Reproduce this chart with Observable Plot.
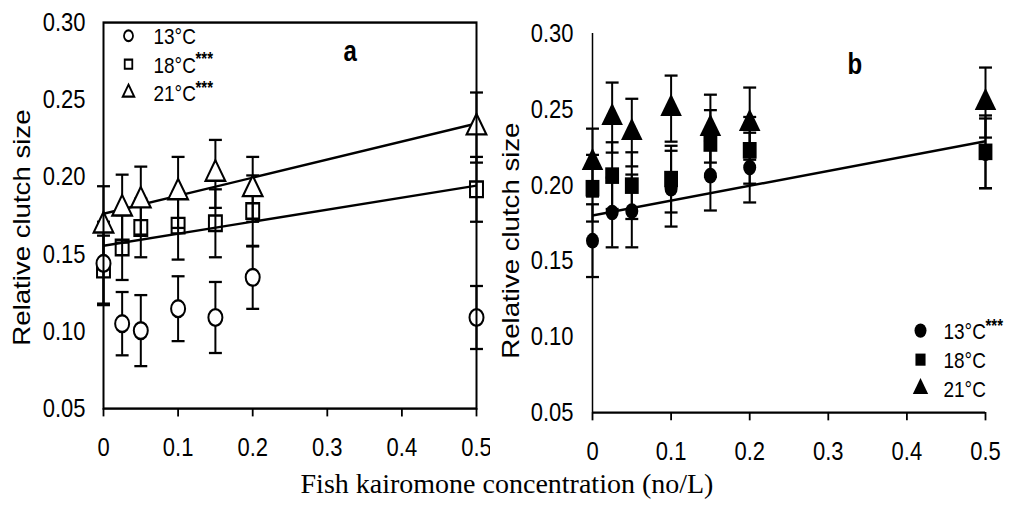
<!DOCTYPE html>
<html>
<head>
<meta charset="utf-8">
<script src="https://cdn.jsdelivr.net/npm/d3@7"></script>
<script src="https://cdn.jsdelivr.net/npm/@observablehq/plot@0.6"></script>
<style>
  html, body { margin: 0; padding: 0; background: white; }
  #wrap { position: relative; width: 1014px; height: 529px; overflow: hidden; background: white; }
  #pa { position: absolute; left: 0; top: 0; transform: scaleY(1.2); transform-origin: 0 0; }
  #pb { position: absolute; left: 490px; top: 0; transform: scaleY(1.2); transform-origin: 0 0; }
  #caption { position: absolute; left: 0; width: 1014px; top: 468px; text-align: center;
    font-family: "Liberation Serif", "Times New Roman", serif; font-size: 28px; color: black; }
</style>
</head>
<body>
<div id="wrap">
  <div id="pa"></div>
  <div id="pb"></div>
  <div id="caption">Fish kairomone concentration (no/L)</div>
</div>
<script>
// ---- data ----
const concentrations = [0, 0.025, 0.05, 0.1, 0.15, 0.2, 0.5];
const xTicks = [0, 0.1, 0.2, 0.3, 0.4, 0.5];
const yTicks = [0.05, 0.10, 0.15, 0.20, 0.25, 0.30];

// Panel a (open symbols)
const a13Mean = [0.144, 0.105, 0.1005, 0.1147, 0.109, 0.135, 0.109];
const a13Err  = [0.027, 0.0205, 0.023, 0.021, 0.023, 0.0204, 0.0204];
const a18Mean = [0.140, 0.1543, 0.167, 0.1685, 0.170, 0.178, 0.192];
const a18Err  = [0.022, 0.021, 0.019, 0.022, 0.022, 0.023, 0.021];
const a21Mean = [0.1685, 0.1795, 0.1847, 0.190, 0.202, 0.192, 0.232];
const a21Err  = [0.0255, 0.022, 0.022, 0.023, 0.022, 0.021, 0.0227];
const aFit18 = [0.1555, 0.1944];   // fitted values at x = 0 and x = 0.5
const aFit21 = [0.1762, 0.2346];

// Panel b (filled symbols)
const b13Mean = [0.1634, 0.182, 0.183, 0.1977, 0.2063, 0.2116, 0.221];
const b13Err  = [0.024, 0.023, 0.024, 0.025, 0.023, 0.023, 0.023];
const b18Mean = [0.198, 0.2063, 0.1997, 0.204, 0.2275, 0.223, 0.222];
const b18Err  = [0.022, 0.022, 0.022, 0.022, 0.022, 0.022, 0.024];
const b21Mean = [0.2149, 0.2446, 0.2347, 0.2505, 0.2373, 0.2406, 0.2545];
const b21Err  = [0.0224, 0.0231, 0.0223, 0.0218, 0.0224, 0.0238, 0.0231];
const bFit13 = [0.180, 0.229];

const legendA = [
  {symbol: "circle", label: "13°C", stars: ""},
  {symbol: "square", label: "18°C", stars: "***"},
  {symbol: "triangle", label: "21°C", stars: "***"}
];
const legendB = [
  {symbol: "circle", label: "13°C", stars: "***"},
  {symbol: "square", label: "18°C", stars: ""},
  {symbol: "triangle", label: "21°C", stars: ""}
];
const fitRange = [0, 0.5];

// ---- helpers ----
function rows(means, errs, symbol) {
  return concentrations.map((x, i) => ({x, y: means[i], lo: means[i] - errs[i], hi: means[i] + errs[i], symbol}));
}
function fitRow(fit) {
  return [{x1: fitRange[0], y1: fit[0], x2: fitRange[1], y2: fit[1]}];
}
// horizontal cap symbol for error bars
const capSymbol = {
  draw(ctx, size) { const w = Math.sqrt(size) / 2; ctx.moveTo(-w, 0); ctx.lineTo(w, 0); }
};

const fontFam = "'Liberation Sans', Arial, Helvetica, sans-serif";

function errorMarks(data, sw) {
  return [
    Plot.ruleX(data, {x: "x", y1: "lo", y2: "hi", stroke: "black", strokeWidth: sw}),
    Plot.dot(data, {x: "x", y: "lo", symbol: capSymbol, r: 7.3, stroke: "black", strokeWidth: 1.9}),
    Plot.dot(data, {x: "x", y: "hi", symbol: capSymbol, r: 7.3, stroke: "black", strokeWidth: 1.9})
  ];
}

function legendMarks(items, opts) {
  const m = [];
  items.forEach((d, i) => {
    const dy = opts.dy0 + i * opts.step;
    m.push(Plot.dot([d], {frameAnchor: "top-left", dx: opts.symX, dy, symbol: d.symbol,
      r: d.symbol === "circle" ? opts.r : opts.r * 0.95,
      fill: opts.filled ? "black" : "white", stroke: "black", strokeWidth: opts.filled ? 0 : 1.8}));
    m.push(Plot.text([d], {frameAnchor: "top-left", dx: opts.textX, dy: dy + 1, text: "label",
      textAnchor: "start", lineAnchor: "middle", fontSize: 19, fill: "black"}));
    if (d.stars) {
      m.push(Plot.text([d], {frameAnchor: "top-left", dx: opts.textX + 42, dy: dy - 4, text: "stars",
        textAnchor: "start", lineAnchor: "middle", fontSize: 15, fontWeight: "bold", fill: "black"}));
    }
  });
  return m;
}

// ---- panel a ----
const a13 = rows(a13Mean, a13Err, "circle");
const a18 = rows(a18Mean, a18Err, "square");
const a21 = rows(a21Mean, a21Err, "triangle");

const plotA = Plot.plot({
  width: 500, height: 392,
  marginLeft: 103, marginRight: 24, marginTop: 18.3, marginBottom: 52,
  style: {fontFamily: fontFam, fontSize: "22px", color: "black", background: "white", overflow: "visible"},
  x: {domain: [0, 0.5]},
  y: {domain: [0.05, 0.30]},
  marks: [
    Plot.axisX({ticks: xTicks, tickSize: 7, tickPadding: 17, strokeWidth: 1.8, fontSize: 22,
      tickFormat: d => d === 0 ? "0" : String(d), label: null}),
    Plot.axisY({ticks: yTicks, tickSize: 0, tickPadding: 18, fontSize: 22, tickFormat: d3.format(".2f"), label: null}),
    Plot.text(["Relative clutch size"], {frameAnchor: "left", textAnchor: "middle", lineAnchor: "middle",
      dx: -81, dy: 10, rotate: -90, text: d => d, fontSize: 23, fill: "black"}),
    Plot.text(["a"], {frameAnchor: "top-left", dx: 240, dy: 15, text: d => d, fontSize: 24,
      fontWeight: "bold", fill: "black"}),
    Plot.link(fitRow(aFit18), {x1: "x1", y1: "y1", x2: "x2", y2: "y2", stroke: "black", strokeWidth: 2}),
    Plot.link(fitRow(aFit21), {x1: "x1", y1: "y1", x2: "x2", y2: "y2", stroke: "black", strokeWidth: 2}),
    ...errorMarks(a13, 2), ...errorMarks(a18, 2), ...errorMarks(a21, 2),
    Plot.dot(a18, {x: "x", y: "y", symbol: "square", r: 7.3, fill: "none", stroke: "black", strokeWidth: 2}),
    Plot.dot(a21, {x: "x", y: "y", symbol: "triangle", r: 7.3, fill: "white", stroke: "black", strokeWidth: 2}),
    Plot.dot(a13, {x: "x", y: "y", symbol: "circle", r: 7, fill: "white", stroke: "black", strokeWidth: 2}),
    ...legendMarks(legendA, {dy0: 11, step: 23.7, symX: 25, textX: 50, r: 4.5, filled: false}),
    Plot.frame({stroke: "black", strokeWidth: 2})
  ]
});
document.getElementById("pa").append(plotA);

// ---- panel b ----
const b13 = rows(b13Mean, b13Err, "circle");
const b18 = rows(b18Mean, b18Err, "square");
const b21 = rows(b21Mean, b21Err, "triangle");

const plotB = Plot.plot({
  width: 524, height: 392,
  marginLeft: 102, marginRight: 29, marginTop: 27.5, marginBottom: 48.7,
  style: {fontFamily: fontFam, fontSize: "22px", color: "black", background: "white", overflow: "visible"},
  x: {domain: [0, 0.5]},
  y: {domain: [0.05, 0.30]},
  marks: [
    Plot.axisX({ticks: xTicks, tickSize: 7, tickPadding: 17, strokeWidth: 1.8, fontSize: 22,
      tickFormat: d => d === 0 ? "0" : String(d), label: null}),
    Plot.axisY({ticks: yTicks, tickSize: 0, tickPadding: 19, fontSize: 22, tickFormat: d3.format(".2f"), label: null}),
    Plot.text(["Relative clutch size"], {frameAnchor: "left", textAnchor: "middle", lineAnchor: "middle",
      dx: -81, dy: 14.6, rotate: -90, text: d => d, fontSize: 23, fill: "black"}),
    Plot.text(["b"], {frameAnchor: "top-left", dx: 255, dy: 17, text: d => d, fontSize: 24,
      fontWeight: "bold", fill: "black"}),
    Plot.ruleX([0], {stroke: "black", strokeWidth: 1.5}),
    Plot.ruleY([0.05], {stroke: "black", strokeWidth: 1.8}),
    Plot.link(fitRow(bFit13), {x1: "x1", y1: "y1", x2: "x2", y2: "y2", stroke: "black", strokeWidth: 2}),
    ...errorMarks(b13, 2), ...errorMarks(b18, 2), ...errorMarks(b21, 2),
    Plot.dot(b13, {x: "x", y: "y", symbol: "circle", r: 6.5, fill: "black"}),
    Plot.dot(b18, {x: "x", y: "y", symbol: "square", r: 7.8, fill: "black"}),
    Plot.dot(b21, {x: "x", y: "y", symbol: "triangle", r: 8, fill: "black"}),
    ...legendMarks(legendB, {dy0: 247.5, step: 24.2, symX: 328, textX: 351, r: 6, filled: true})
  ]
});
document.getElementById("pb").append(plotB);
</script>
</body>
</html>
